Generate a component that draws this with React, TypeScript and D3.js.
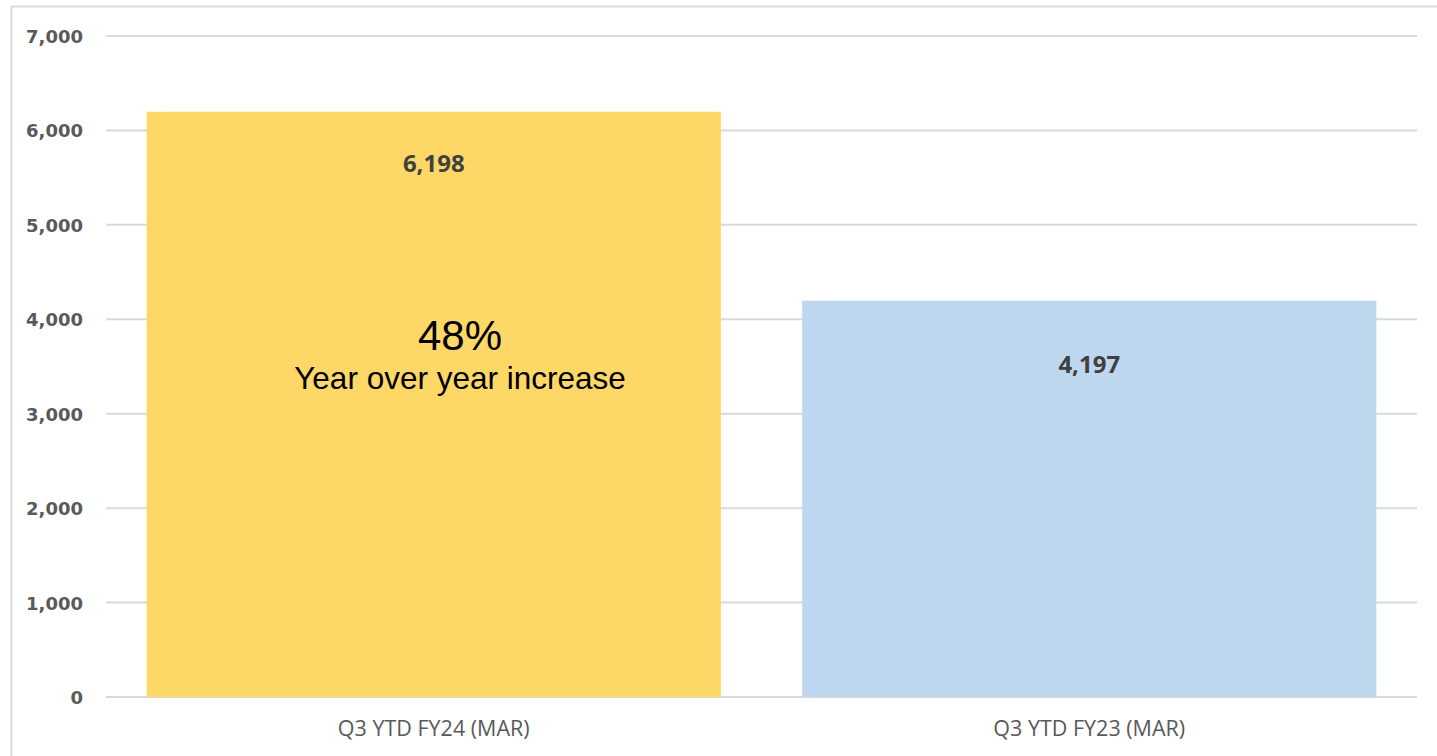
import React from "react";
import * as d3 from "d3";

const categories = ["Q3 YTD FY24 (MAR)", "Q3 YTD FY23 (MAR)"];
const values = [6198, 4197];
const barColors = ["#FDD866", "#BDD7EE"];
const yTicks = [0, 1000, 2000, 3000, 4000, 5000, 6000, 7000];
const annotationBig = "48%";
const annotationSmall = "Year over year increase";
const labelOffsets = [60, 72];

export default function App() {
  const W = 1437, H = 756;
  const x0 = 106, x1 = 1417, y0 = 697, y1 = 36;
  const x = d3.scaleBand<string>().domain(categories).range([x0, x1]).paddingInner(0.124).paddingOuter(0.062);
  const y = d3.scaleLinear().domain([0, 7000]).range([y0, y1]);
  const fmt = d3.format(",");
  return (
    <svg width={W} height={H} style={{ position: "absolute", left: 0, top: 0, background: "#fff" }}>
      <rect x={11.5} y={6.5} width={W + 10} height={H + 10} fill="#fff" stroke="#d9d9d9" strokeWidth={2} />
      {yTicks.map((t) => (
        <g key={t}>
          <line x1={x0} x2={x1} y1={y(t)} y2={y(t)} stroke="#d9d9d9" strokeWidth={2} />
          <text x={83} y={y(t) + 7} textAnchor="end" fontFamily="DejaVu Sans" fontSize={18} fill="#595959" fontWeight={600}>
            {fmt(t)}
          </text>
        </g>
      ))}
      {categories.map((c, i) => (
        <g key={c}>
          <rect x={x(c)} y={y(values[i])} width={x.bandwidth()} height={y(0) - y(values[i])} fill={barColors[i]} />
          <text x={(x(c) as number) + x.bandwidth() / 2} y={y(values[i]) + labelOffsets[i]} textAnchor="middle" fontFamily="Open Sans" fontWeight={700} fontSize={24} fill="#404040">
            {fmt(values[i])}
          </text>
          <text x={(x(c) as number) + x.bandwidth() / 2} y={736} textAnchor="middle" fontFamily="Open Sans" fontSize={21.5} fill="#595959">
            {c}
          </text>
        </g>
      ))}
      <text x={460} y={350} textAnchor="middle" fontFamily="Liberation Sans" fontSize={42} fill="#000">{annotationBig}</text>
      <text x={460} y={389} textAnchor="middle" fontFamily="Liberation Sans" fontSize={31.5} fill="#000">{annotationSmall}</text>
    </svg>
  );
}
